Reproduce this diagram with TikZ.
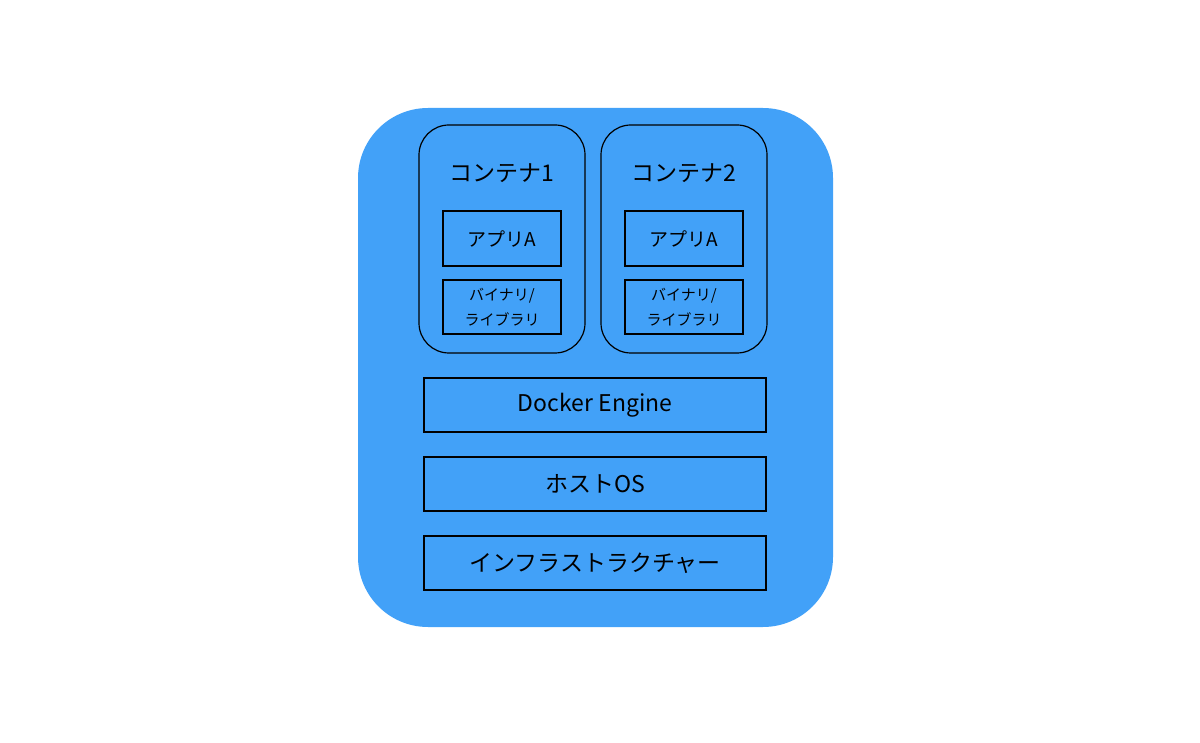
\documentclass[tikz,border=0pt]{standalone}
\usepackage{fontspec}
\setmainfont{Noto Sans CJK JP}
\definecolor{bg}{HTML}{42A1F8}
\begin{document}
\begin{tikzpicture}[x=1pt,y=-1pt,
  box/.style={draw=black,line width=1.2pt},
  lbl/.style={inner sep=0pt}]
\useasboundingbox (0,0) rectangle (1200,743);
\fill[bg,rounded corners=70pt] (358,108) rectangle (833,627);
\foreach \x/\n in {419/1,601/2}{
  \draw[box,rounded corners=30pt] (\x,125) rectangle ++(166,228);
  \node[lbl,font=\fontsize{23}{26}\selectfont] (t\n) at (\x+83,173) {コンテナ\n};
  \draw[box] (\x+24,211) rectangle ++(118,55);
  \node[lbl,font=\fontsize{19}{22}\selectfont] (a\n) at (\x+83,239) {アプリA};
  \draw[box] (\x+24,280) rectangle ++(118,54);
  \node[lbl,align=center,font=\fontsize{15}{25}\selectfont] (b\n) at (\x+83,307) {バイナリ/\\ライブラリ};
}
\draw[box] (424,378) rectangle (766,432);
\node[lbl,font=\fontsize{23}{26}\selectfont] (de) at (595,405) {Docker Engine};
\draw[box] (424,457) rectangle (766,511);
\node[lbl,font=\fontsize{23}{26}\selectfont] (os) at (595,484) {ホストOS};
\draw[box] (424,536) rectangle (766,590);
\node[lbl,font=\fontsize{23}{26}\selectfont] (in) at (595,563) {インフラストラクチャー};
\end{tikzpicture}
\end{document}
